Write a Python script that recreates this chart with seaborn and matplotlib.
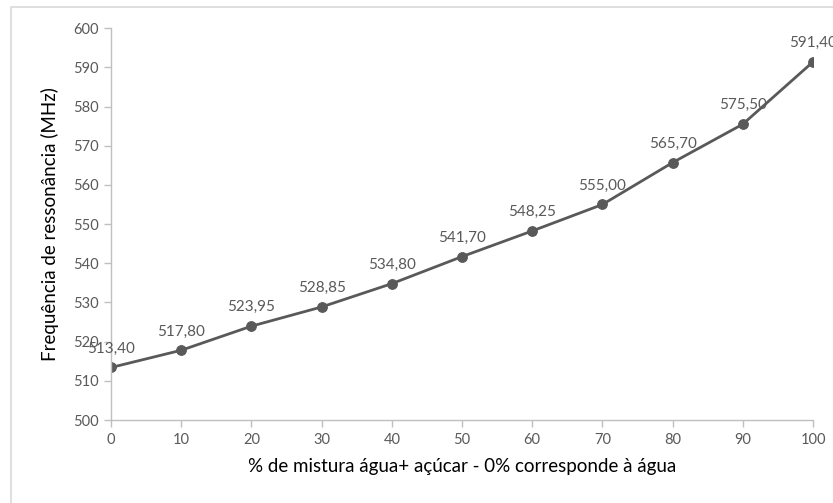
import matplotlib
matplotlib.use("Agg")
import matplotlib.pyplot as plt
import seaborn as sns
import pandas as pd
from matplotlib.patches import Rectangle

# Data
mistura = [0, 10, 20, 30, 40, 50, 60, 70, 80, 90, 100]
frequencia = [513.40, 517.80, 523.95, 528.85, 534.80, 541.70, 548.25, 555.00, 565.70, 575.50, 591.40]
y_ticks = [500, 510, 520, 530, 540, 550, 560, 570, 580, 590, 600]
x_ticks = [0, 10, 20, 30, 40, 50, 60, 70, 80, 90, 100]

df = pd.DataFrame({"Mistura": mistura, "Frequencia": frequencia})

sns.set_style("white")
plt.rcParams["font.family"] = ["Lato", "DejaVu Sans"]

fig = plt.figure(figsize=(8.33, 5.03), dpi=100)
ax = fig.add_axes([0.1333, 0.165, 0.976 - 0.1333, 0.944 - 0.165])

# outer chart border
fig.patches.append(Rectangle((11 / 833, -0.01), 1.0, 1 - 7 / 503 + 0.01,
                             transform=fig.transFigure, fill=False,
                             edgecolor="#d9d9d9", linewidth=1.2))

line_col = "#595959"
sns.lineplot(data=df, x="Mistura", y="Frequencia", ax=ax, color=line_col,
             linewidth=2, marker="o", markersize=7, markeredgecolor=line_col,
             markerfacecolor=line_col)

for xv, yv in zip(mistura, frequencia):
    ax.annotate(f"{yv:.2f}".replace(".", ","), (xv, yv), xytext=(0, 8.5),
                textcoords="offset points", ha="center", va="bottom",
                fontsize=11, color="#595959")

ax.set_xlim(0, 100)
ax.set_ylim(500, 600)
ax.set_xticks(x_ticks)
ax.set_yticks(y_ticks)
ax.tick_params(axis="both", labelsize=10.5, labelcolor="#595959", colors="#bfbfbf",
               length=5, width=1, direction="out", left=True, bottom=True, pad=4)
for lab in ax.get_xticklabels() + ax.get_yticklabels():
    lab.set_color("#595959")

for s in ["top", "right"]:
    ax.spines[s].set_visible(False)
for s in ["left", "bottom"]:
    ax.spines[s].set_color("#bfbfbf")
    ax.spines[s].set_linewidth(1)

ax.set_xlabel("% de mistura água+ açúcar - 0% corresponde à água", fontsize=13.5,
              color="black", labelpad=8)
ax.set_ylabel("Frequência de ressonância (MHz)", fontsize=13.5, color="black",
              labelpad=10)

plt.savefig("out.png", dpi=100)
